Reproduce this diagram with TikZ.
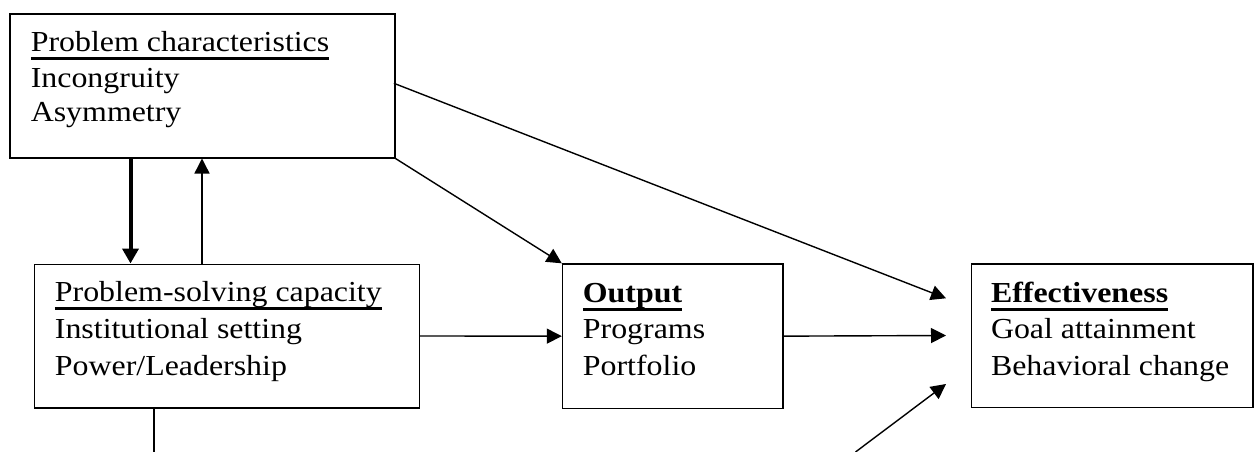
\documentclass[tikz,border=0pt]{standalone}
\usepackage{fontspec}
\setmainfont[FakeStretch=1.10]{Liberation Serif}
\usetikzlibrary{arrows.meta}
\newcommand{\myul}[3][2.2pt]{\setbox0\hbox{#3}\rlap{\rule[#2]{\wd0}{#1}}\box0}
\tikzset{
  box/.style={draw, line width=1.5pt, rectangle, inner sep=0pt, anchor=north west},
  txt/.style={anchor=base west, inner sep=0pt, font=\fontsize{29}{35}\selectfont},
  conn/.style={line width=1.4pt, -{Triangle[length=15pt,width=15pt]}},
  thickconn/.style={line width=4pt, -{Triangle[length=15pt,width=16pt]}},
  plain/.style={line width=1.4pt}
}
\begin{document}
\begin{tikzpicture}[x=1pt,y=-1pt]
\fill[white] (0,0) rectangle (1256,452);
\useasboundingbox (0,0) rectangle (1256,452);
% boxes
\node[box, minimum width=384.7pt, minimum height=143.7pt] (pc) at (9.3,13.3) {};
\node[box, minimum width=385pt, minimum height=143.5pt] (ps) at (33.5,263.5) {};
\node[box, minimum width=220.2pt, minimum height=144.2pt] (out) at (561.8,263.3) {};
\node[box, minimum width=281.3pt, minimum height=143.4pt] (eff) at (970.7,263.3) {};
% texts
\node[txt] (pc1) at (30.6,51.7) {\myul{-8pt}{Problem characteristics}};
\node[txt] (pc2) at (30.6,87.5) {Incongruity};
\node[txt] (pc3) at (30.6,121.5) {Asymmetry};
\node[txt] (ps1) at (54.7,301.5) {\myul{-8pt}{Problem-solving capacity}};
\node[txt] (ps2) at (54.7,338.5) {Institutional setting};
\node[txt] (ps3) at (54.7,375) {Power/Leadership};
\node[txt] (out1) at (582.7,302) {\myul[3pt]{-8.5pt}{\textbf{Output}}};
\node[txt] (out2) at (582.7,338.5) {Programs};
\node[txt] (out3) at (582.7,375) {Portfolio};
\node[txt] (eff1) at (990.8,302) {\myul[3pt]{-8.5pt}{\textbf{Effectiveness}}};
\node[txt] (eff2) at (990.8,338.5) {Goal attainment};
\node[txt] (eff3) at (990.8,375) {Behavioral change};
% helper coordinates
\coordinate (xa) at (130.5,0);
\coordinate (xb) at (202,0);
\coordinate (xc) at (154,452);
\coordinate (pcR) at (393.9,83.3);
\coordinate (tA) at (946,298.3);
\coordinate (tB) at (946,335.5);
\coordinate (tC) at (946,384);
\coordinate (sC) at (855.5,452);
% connectors
\draw[thickconn] (pc.south -| xa) -- (ps.north -| xa);
\draw[conn] (ps.north -| xb) -- (pc.south -| xb);
\draw[conn] (pc.south east) -- (out.north west);
\draw[conn] (pcR) -- (tA);
\draw[conn] (ps.east) -- (out.west);
\draw[conn] (out.east) -- (tB);
\draw[conn] (sC) -- (tC);
\draw[plain] (ps.south -| xc) -- (xc);
\end{tikzpicture}
\end{document}
